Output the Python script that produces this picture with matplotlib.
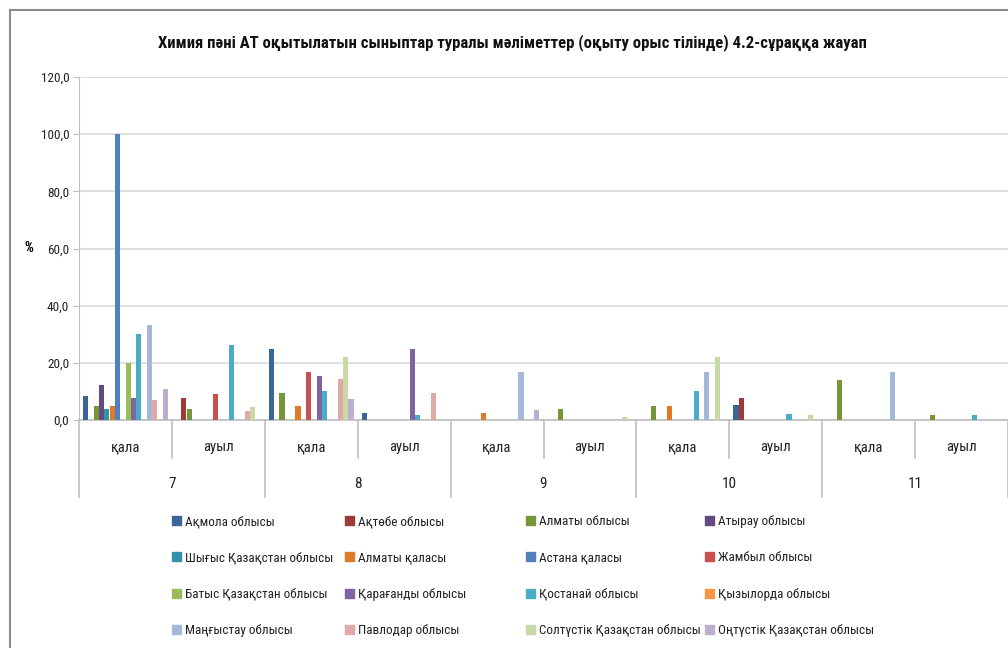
import matplotlib
matplotlib.use("Agg")
import matplotlib.pyplot as plt
from matplotlib.patches import Rectangle
from matplotlib.lines import Line2D
from matplotlib import font_manager
from matplotlib.transforms import blended_transform_factory
import numpy as np

names = sorted({f.name for f in font_manager.fontManager.ttflist})
cands = [n for n in ['Liberation Sans Narrow', 'DejaVu Sans Condensed', 'Roboto Condensed', 'Open Sans Condensed'] if n in names]
plt.rcParams['font.family'] = cands + ['Liberation Sans', 'DejaVu Sans']

title = "Химия пәні АТ оқытылатын сыныптар туралы мәліметтер (оқыту орыс тілінде) 4.2-сұраққа жауап"
grades = ["7", "8", "9", "10", "11"]
subcats = ["қала", "ауыл"]
ylabel = "%"
yticks = [0, 20, 40, 60, 80, 100, 120]

series_names = [
    "Ақмола облысы", "Ақтөбе облысы", "Алматы облысы", "Атырау облысы",
    "Шығыс Қазақстан облысы", "Алматы қаласы", "Астана қаласы", "Жамбыл облысы",
    "Батыс Қазақстан облысы", "Қарағанды облысы", "Қостанай облысы", "Қызылорда облысы",
    "Маңғыстау облысы", "Павлодар облысы", "Солтүстік Қазақстан облысы", "Оңтүстік Қазақстан облысы",
]
series_colors = [
    "#3A6597", "#A03A38", "#77953B", "#634A80", "#3492A8", "#E07A28", "#4F81BD", "#C8504D",
    "#9BBB59", "#8064A2", "#4BACC6", "#F79646", "#A5B8DA", "#E0A8A6", "#C8D9A6", "#BBAED0",
]

# values per series across categories: 7қ,7а,8қ,8а,9қ,9а,10қ,10а,11қ,11а
akmola      = [8.3, 0, 25.0, 2.3, 0, 0, 0, 5.1, 0, 0]
aktobe      = [0, 7.7, 0, 0, 0, 0, 0, 7.7, 0, 0]
almaty_obl  = [4.8, 3.7, 9.6, 0, 0, 3.7, 4.8, 0, 14.0, 1.8]
atyrau      = [12.4, 0, 0, 0, 0, 0, 0, 0, 0, 0]
shygys      = [3.7, 0, 0, 0, 0, 0, 0, 0, 0, 0]
almaty_q    = [4.8, 0, 4.8, 0, 2.3, 0, 4.8, 0, 0, 0]
astana      = [100.0, 0, 0, 0, 0, 0, 0, 0, 0, 0]
zhambyl     = [0, 9.1, 16.7, 0, 0, 0, 0, 0, 0, 0]
batys       = [20.0, 0, 0, 0, 0, 0, 0, 0, 0, 0]
karagandy   = [7.6, 0, 15.4, 25.0, 0, 0, 0, 0, 0, 0]
kostanay    = [30.2, 26.2, 10.1, 1.9, 0, 0, 10.1, 2.0, 0, 1.9]
kyzylorda   = [0, 0, 0, 0, 0, 0, 0, 0, 0, 0]
mangystau   = [33.3, 0, 0, 0, 16.7, 0, 16.7, 0, 16.7, 0]
pavlodar    = [7.0, 3.3, 14.3, 9.6, 0, 0, 0, 0, 0, 0]
soltustik   = [0, 4.5, 22.0, 0, 0, 0.9, 22.2, 1.8, 0, 0]
ontustik    = [11.0, 0, 7.2, 0, 3.5, 0, 0, 0, 0, 0]

series_values = [akmola, aktobe, almaty_obl, atyrau, shygys, almaty_q, astana, zhambyl,
                 batys, karagandy, kostanay, kyzylorda, mangystau, pavlodar, soltustik, ontustik]

W, H = 1008, 648
fig = plt.figure(figsize=(W / 100, H / 100), dpi=100)

fig.patches.append(Rectangle((10 / W, -0.1), 1.2, 1 - 10 / H + 0.1, transform=fig.transFigure,
                             fill=False, edgecolor="#8C8C8C", linewidth=1.5))

left, right, top, bottom = 79, 1008, 77, 420
ax = fig.add_axes([left / W, 1 - bottom / H, (right - left) / W, (bottom - top) / H])

ncat = len(grades) * len(subcats)
nser = len(series_names)
slot = 1.0 / (nser + 1.5)
x = np.arange(ncat)
for i, (vals, col) in enumerate(zip(series_values, series_colors)):
    xs = x + slot * (0.75 + i + 0.5)
    v = np.array(vals, dtype=float)
    m = v > 0
    ax.bar(xs[m], v[m], width=slot * 0.98, color=col, align="center", zorder=3, linewidth=0)

ax.set_xlim(0, ncat)
ax.set_ylim(0, 120)
ax.set_yticks(yticks)
ax.set_yticklabels([f"{t:.1f}".replace(".", ",") for t in yticks], fontsize=9.5)
ax.yaxis.grid(True, color="#D9D9D9", linewidth=1.2, zorder=0)
ax.set_xticks([])
for s in ["top", "right"]:
    ax.spines[s].set_visible(False)
ax.spines["left"].set_color("#BFBFBF")
ax.spines["bottom"].set_color("#BFBFBF")
ax.spines["bottom"].set_linewidth(1.2)
ax.tick_params(axis="y", length=4, color="#BFBFBF", pad=3, labelcolor="#222222")
ax.set_ylabel(ylabel, rotation=0, fontsize=10, fontweight="bold", labelpad=0, va="center")
ax.yaxis.set_label_coords(-50 / (right - left), 0.5)

tr = blended_transform_factory(ax.transData, ax.transAxes)
ph = bottom - top
for k in range(ncat + 1):
    depth = 77 if k % 2 == 0 else 38
    ax.add_line(Line2D([k, k], [0, -depth / ph], transform=tr, color="#BFBFBF",
                       linewidth=1.2, clip_on=False))
for k in range(ncat):
    ax.text(k + 0.5, -27 / ph, subcats[k % 2], transform=tr, ha="center", va="center",
            fontsize=10.5, color="#222222")
for g, lab in enumerate(grades):
    ax.text(2 * g + 1, -64 / ph, lab, transform=tr, ha="center", va="center",
            fontsize=11, color="#222222")

fig.text(512 / W, 1 - 43 / H, title, ha="center", va="center", fontsize=12,
         fontweight="bold", color="#111111")

col_x = [172, 345, 526, 705]
handles = [Rectangle((0, 0), 1, 1, color=c) for c in series_colors]
for c in range(4):
    idx = list(range(c, nser, 4))
    leg = fig.legend([handles[j] for j in idx], [series_names[j] for j in idx],
                     loc="upper left", bbox_to_anchor=(col_x[c] / W, 1 - 515 / H),
                     frameon=False, fontsize=9.5, handlelength=0.65, handleheight=0.65,
                     handletextpad=0.35, labelspacing=1.78, borderaxespad=0, borderpad=0)
    for t in leg.get_texts():
        t.set_color("#222222")

fig.savefig("out.png", dpi=100)
